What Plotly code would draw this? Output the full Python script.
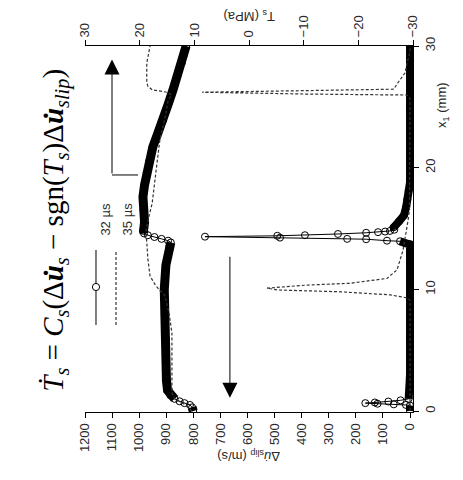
import numpy as np
import plotly.graph_objects as go

# ---------------- data ----------------
# 32 microseconds: shear traction T_s (MPa) along the interface
x1_ts32 = [0, 0.3, 0.5, 0.65, 0.8, 1.0, 1.3, 1.7, 2.5, 4, 6, 8, 10, 12, 13.5, 13.85,
           14.0, 14.15, 14.3, 14.45, 14.6, 14.8, 15.5, 16.5, 17.6, 18.6, 19.6, 20.6,
           21.7, 22.8, 23.9, 25.2, 26.4, 27.5, 28.6, 29.3, 30]
ts32 = [10.2, 10.4, 10.8, 11.8, 12.7, 13.6, 14.4, 14.9, 15.1, 15.2, 15.3, 15.4, 15.5,
        15.2, 14.6, 14.3, 14.8, 16.0, 17.3, 18.5, 19.2, 19.3, 19.1, 19.3, 19.4, 19.1,
        18.7, 18.2, 17.6, 16.7, 15.7, 14.8, 13.9, 13.1, 12.3, 11.9, 11.5]

# 32 microseconds: slip velocity (m/s)
x1_du32 = [0, 0.45, 0.5, 0.55, 0.6, 0.65, 0.7, 0.78, 0.88, 1.0, 3, 6, 9, 12, 13.7,
           13.8, 13.95, 14.0, 14.12, 14.15, 14.25, 14.33, 14.4, 14.45, 14.55, 14.65,
           14.7, 14.75, 14.8, 14.9, 15.1, 15.6, 16.1, 16.8, 17.4, 18.1, 18.8, 20, 25, 30]
du32 = [0, 0, 15, 60, 120, 165, 130, 80, 35, 5, 0, 0, 0, 0, 0,
        18, 37, 85, 162, 232, 480, 757, 490, 388, 266, 162,
        118, 92, 74, 58, 60, 40, 22, 14, 10, 5, 0, 0, 0, 0]

# 35 microseconds: shear traction T_s (MPa)
x1_ts35 = [0, 0.3, 0.6, 1.0, 1.5, 3, 6.4, 8, 9.5, 9.9, 10.4, 11.1, 12.5, 13.9, 14.7,
           16.0, 17.1, 19.0, 22.3, 24.0, 25.5, 26.0, 26.2, 26.4, 26.7, 27.0, 28.6, 30]
ts35 = [10.5, 11.0, 12.0, 13.6, 14.1, 14.1, 14.1, 14.6, 15.4, 16.3, 17.2, 18.1, 18.5,
        18.7, 18.9, 18.3, 17.7, 17.2, 16.3, 15.4, 14.8, 14.2, 15.0, 17.7, 18.5, 18.7,
        18.7, 18.1]

# 35 microseconds: slip velocity (m/s)
x1_du35 = [0, 9.1, 9.3, 9.55, 9.8, 9.95, 10.1, 10.35, 10.5, 10.9, 11.6, 13.2, 15.7,
           16.5, 25.7, 25.97, 26.05, 26.2, 26.32, 26.4, 26.45, 27.0, 27.8, 28.6, 29.5, 30]
du35 = [0, 0, 11, 74, 258, 490, 528, 380, 221, 85, 48, 26, 7,
        2, 0, 11, 380, 768, 420, 74, 60, 44, 18, 11, 0, 0]

legend_names = ["32 \u00b5s", "35 \u00b5s"]

# ---------------- figure ----------------
fig = go.Figure()


def thick_part(x1, v, keep):
    """Return values kept only where the dense-marker band is drawn."""
    return [val if keep(a, val) else None for a, val in zip(x1, v)]


# dense marker band of the 32 us slip-velocity curve (near-zero parts)
fig.add_trace(go.Scatter(
    x=thick_part(x1_du32, du32, lambda a, v: v <= 65 and not (0.45 < a < 0.95)),
    y=x1_du32, mode="lines", line=dict(color="black", width=8),
    xaxis="x", yaxis="y", showlegend=False, connectgaps=False, hoverinfo="skip"))
fig.add_trace(go.Scatter(
    x=du32, y=x1_du32, mode="lines+markers",
    line=dict(color="black", width=1),
    marker=dict(symbol="circle-open", size=7, color="black", line=dict(width=1)),
    xaxis="x", yaxis="y", name=legend_names[0], showlegend=False))

# dense marker band of the 32 us traction curve
fig.add_trace(go.Scatter(
    x=thick_part(x1_ts32, ts32, lambda a, v: not (0.45 < a < 0.95) and not (13.9 < a < 14.55)),
    y=x1_ts32, mode="lines", line=dict(color="black", width=9),
    xaxis="x2", yaxis="y", showlegend=False, connectgaps=False, hoverinfo="skip"))
fig.add_trace(go.Scatter(
    x=ts32, y=x1_ts32, mode="lines+markers",
    line=dict(color="black", width=1),
    marker=dict(symbol="circle-open", size=7, color="black", line=dict(width=1)),
    xaxis="x2", yaxis="y", showlegend=False))

# 35 us curves (dashed)
fig.add_trace(go.Scatter(
    x=du35, y=x1_du35, mode="lines",
    line=dict(color="#333333", width=1.2, dash="3px,2px"),
    xaxis="x", yaxis="y", name=legend_names[1], showlegend=False))
fig.add_trace(go.Scatter(
    x=ts35, y=x1_ts35, mode="lines",
    line=dict(color="#333333", width=1.2, dash="3px,2px"),
    xaxis="x2", yaxis="y", showlegend=False))

tick_font = dict(family="Liberation Sans, Arial, sans-serif", size=13, color="#2a2a2a")
axis_common = dict(showline=True, linecolor="black", linewidth=1, ticks="outside",
                   ticklen=5, tickcolor="black", tickwidth=1, showgrid=False,
                   zeroline=False, tickangle=-90, tickfont=tick_font)

fig.update_layout(
    width=463, height=480, autosize=False,
    margin=dict(l=85, r=50, t=46, b=68),
    paper_bgcolor="white", plot_bgcolor="white",
    showlegend=False,
    xaxis=dict(range=[1200, -11], tickvals=list(range(0, 1201, 100)),
               side="bottom", anchor="y", **axis_common),
    xaxis2=dict(range=[30, -30], tickvals=[-30, -20, -10, 0, 10, 20, 30],
                side="top", overlaying="x", anchor="y", **axis_common),
    yaxis=dict(range=[-0.08, 30], tickvals=[0, 10, 20, 30], side="right",
               anchor="x", **axis_common),
)

# axis titles (rotated text)
title_font = dict(family="Liberation Sans, Arial, sans-serif", size=13, color="#2a2a2a")
fig.add_annotation(xref="paper", yref="paper", x=0.50, y=-0.148,
                   text="\u0394<i>u\u0307</i><sub>slip</sub> (m/s)", textangle=180,
                   showarrow=False, font=title_font)
fig.add_annotation(xref="paper", yref="paper", x=0.50, y=1.11,
                   text="T<sub>s</sub> (MPa)", textangle=180,
                   showarrow=False, font=title_font)
fig.add_annotation(xref="paper", yref="paper", x=1.12, y=0.907,
                   text="x<sub>1</sub> (mm)", textangle=-90,
                   showarrow=False, font=title_font)

# governing equation
fig.add_annotation(
    xref="paper", yref="paper", x=-0.155, y=0.497, textangle=-90, showarrow=False,
    text=("<i>\u1e6a</i><sub><i>s</i></sub> = <i>C</i><sub><i>s</i></sub>"
          "(\u0394<b><i>u\u0307</i></b><sub><i>s</i></sub> \u2212 sgn(<i>T</i><sub><i>s</i></sub>)"
          "\u0394<b><i>u\u0307</i></b><sub><i>slip</i></sub>)"),
    font=dict(family="Liberation Serif, Times New Roman, serif", size=29, color="black"))

# legend drawn in rotated orientation
fig.add_shape(type="line", xref="paper", yref="paper", x0=0.0335, x1=0.0335,
              y0=0.2377, y1=0.4426, line=dict(color="black", width=1))
fig.add_shape(type="circle", xref="paper", yref="paper",
              x0=0.0335 - 0.011, x1=0.0335 + 0.011, y0=0.3415 - 0.0098, y1=0.3415 + 0.0098,
              line=dict(color="black", width=1), fillcolor="white")
fig.add_shape(type="line", xref="paper", yref="paper", x0=0.0945, x1=0.0945,
              y0=0.2377, y1=0.4426, line=dict(color="#333333", width=1.2, dash="3px,2px"))
for xp, name in zip([0.0335, 0.100], legend_names):
    fig.add_annotation(xref="paper", yref="paper", x=xp, y=0.527, text=name,
                       textangle=-90, showarrow=False, font=tick_font)

# arrow pointing to the traction axis
fig.add_shape(type="line", xref="x2", yref="y", x0=20.3, x1=25.06, y0=19.4, y1=19.4,
              line=dict(color="black", width=1))
fig.add_annotation(xref="x2", yref="y", x=25.06, y=28.9, axref="x2", ayref="y",
                   ax=25.06, ay=19.4, text="", showarrow=True, arrowhead=2,
                   arrowsize=3, arrowwidth=1, arrowcolor="black")
# arrow pointing to the slip-velocity axis
fig.add_annotation(xref="x", yref="y", x=665, y=1.1, axref="x", ayref="y",
                   ax=665, ay=12.8, text="", showarrow=True, arrowhead=2,
                   arrowsize=3, arrowwidth=1, arrowcolor="black")

fig.write_html("out.html")
